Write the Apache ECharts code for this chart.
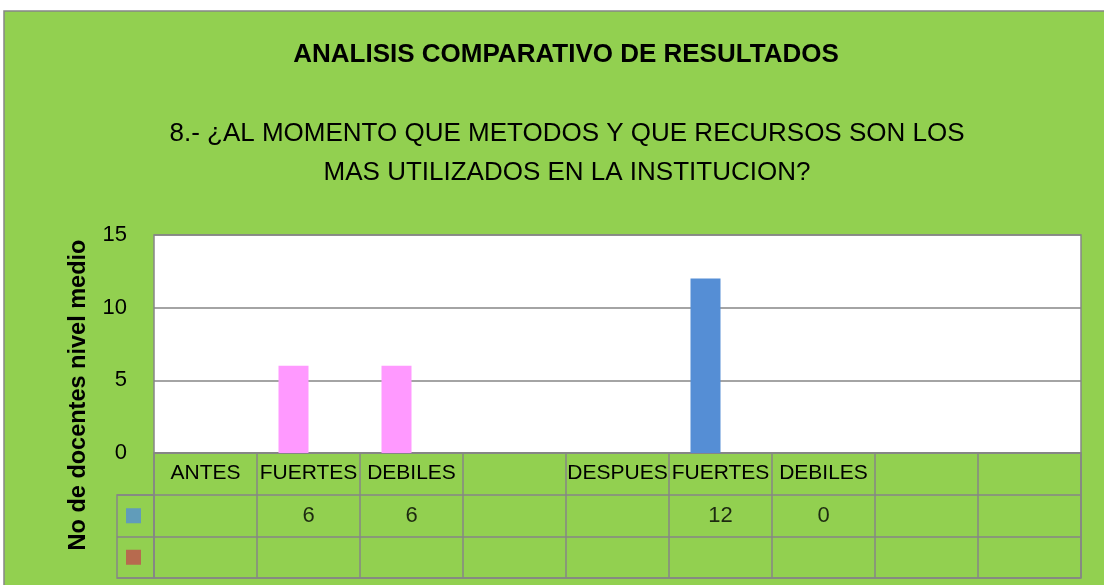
<!DOCTYPE html>
<html>
<head>
<meta charset="utf-8">
<script src="https://cdn.jsdelivr.net/npm/echarts@6/dist/echarts.min.js"></script>
<style>
  html, body { margin: 0; padding: 0; background: #fff; }
  #grafico { width: 1104px; height: 585px; }
</style>
</head>
<body>
<div id="grafico"></div>
<script>
// datos
var categorias = ['ANTES', 'FUERTES', 'DEBILES', '', 'DESPUES', 'FUERTES', 'DEBILES', '', ''];
var serieAzul = [null, 6, 6, null, null, 12, 0, null, null];
var serieRoja = [null, null, null, null, null, null, null, null, null];
var ticksY = [0, 5, 10, 15];

var titulo = 'ANALISIS COMPARATIVO DE RESULTADOS';
var pregunta = '8.- ¿AL MOMENTO QUE METODOS Y QUE RECURSOS SON LOS\nMAS UTILIZADOS EN LA INSTITUCION?';
var nombreEjeY = 'No de docentes nivel medio';

var azul = '#558ED5', rojo = '#C0504D', rosa = '#FF99FF';
var gris = '#868686', verde = '#92D050';
var fuente = '"Liberation Sans", Arial, sans-serif';
var inicioDespues = categorias.indexOf('DESPUES');

var myChart = echarts.init(document.getElementById('grafico'));

// barras: el grupo ANTES va en rosa
var barrasAzul = serieAzul.map(function (v, i) {
    if (v === null) return null;
    return i < inicioDespues ? { value: v, itemStyle: { color: rosa } } : v;
});

// textos de la tabla de datos
var filasTabla = [serieAzul, serieRoja];
var celdas = [];
filasTabla.forEach(function (fila, r) {
    fila.forEach(function (v, i) {
        if (v !== null) celdas.push([i, r + 1, v]);
    });
});

var option = {
    backgroundColor: '#fff',
    textStyle: { fontFamily: fuente, color: '#000' },
    graphic: [{
        type: 'rect',
        z: -10,
        silent: true,
        shape: { x: 4, y: 11, width: 1120, height: 600 },
        style: { fill: verde, stroke: gris, lineWidth: 1.5 }
    }, {
        type: 'text',
        x: 79, y: 395,
        rotation: Math.PI / 2,
        style: {
            text: nombreEjeY, fill: '#000',
            font: 'bold 23.5px ' + fuente,
            align: 'center', verticalAlign: 'middle'
        }
    }],
    title: [{
        text: titulo,
        left: 561, top: 37, textAlign: 'center',
        textStyle: { fontSize: 26, fontWeight: 'bold', color: '#000', fontFamily: fuente }
    }, {
        text: pregunta,
        left: 562, top: 109, textAlign: 'center',
        textStyle: { fontSize: 26, fontWeight: 'normal', lineHeight: 39, color: '#000', fontFamily: fuente }
    }],
    grid: [
        { left: 154, top: 235, width: 927, height: 218, show: true, backgroundColor: '#fff', borderColor: gris, borderWidth: 1.5 },
        { left: 154, top: 453, width: 927, height: 125, show: true, borderColor: gris, borderWidth: 1.5 },
        { left: 117, top: 495, width: 37, height: 83, show: true, borderColor: gris, borderWidth: 1.5 }
    ],
    xAxis: [{
        gridIndex: 0, type: 'category', data: categorias,
        axisLine: { show: false }, axisTick: { show: false },
        axisLabel: { interval: 0, fontSize: 21, color: '#000', margin: 10 }
    }, {
        gridIndex: 1, type: 'category', data: categorias,
        axisLine: { show: false }, axisTick: { show: false }, axisLabel: { show: false },
        splitLine: { show: true, interval: 0, lineStyle: { color: gris, width: 1.5 } }
    }, {
        gridIndex: 2, type: 'category', data: [''],
        axisLine: { show: false }, axisTick: { show: false }, axisLabel: { show: false }
    }],
    yAxis: [{
        gridIndex: 0, type: 'value', min: ticksY[0], max: ticksY[ticksY.length - 1], interval: 5,
        axisLine: { show: false }, axisTick: { show: false },
        axisLabel: { fontSize: 22, color: '#000', margin: 27 },
        splitLine: { lineStyle: { color: gris, width: 1.5 } }
    }, {
        gridIndex: 1, type: 'category', data: ['cat', 'azul', 'roja'], inverse: true,
        axisLine: { show: false }, axisTick: { show: false }, axisLabel: { show: false },
        splitLine: { show: true, interval: 0, lineStyle: { color: gris, width: 1.5 } }
    }, {
        gridIndex: 2, type: 'category', data: ['azul', 'roja'], inverse: true,
        axisLine: { show: false }, axisTick: { show: false }, axisLabel: { show: false },
        splitLine: { show: true, interval: 0, lineStyle: { color: gris, width: 1.5 } }
    }],
    series: [{
        type: 'bar', name: 'azul', xAxisIndex: 0, yAxisIndex: 0,
        data: barrasAzul, barWidth: 30, barGap: '0%',
        itemStyle: { color: azul }
    }, {
        type: 'bar', name: 'roja', xAxisIndex: 0, yAxisIndex: 0,
        data: serieRoja, barWidth: 30, barGap: '0%',
        itemStyle: { color: rojo }
    }, {
        type: 'scatter', xAxisIndex: 1, yAxisIndex: 1,
        data: celdas, symbol: 'rect', symbolSize: 1,
        itemStyle: { color: 'transparent' },
        label: {
            show: true, position: 'inside', fontSize: 22, color: '#000', fontFamily: fuente,
            formatter: function (p) { return p.value[2]; }
        }
    }, {
        type: 'scatter', xAxisIndex: 2, yAxisIndex: 2,
        data: [
            { value: [0, 0], itemStyle: { color: azul } },
            { value: [0, 1], itemStyle: { color: rojo } }
        ],
        symbol: 'rect', symbolSize: 15, symbolOffset: [-2, 0]
    }]
};

myChart.setOption(option);
window.addEventListener('resize', function () {
    myChart.resize();
});
</script>
</body>
</html>
